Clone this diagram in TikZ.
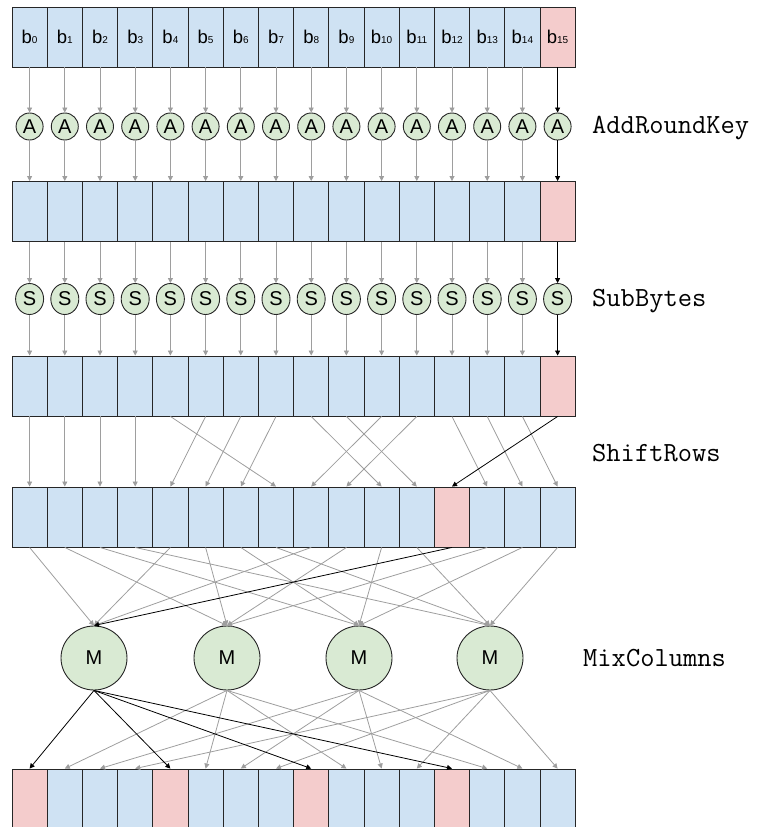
\documentclass[tikz,border=0pt]{standalone}
\usepackage{fontspec}
\setmainfont{Liberation Sans}
\usetikzlibrary{arrows.meta,shapes.geometric}

\definecolor{cellblue}{HTML}{CFE2F3}
\definecolor{cellred}{HTML}{F4CCCC}
\definecolor{opgreen}{HTML}{D9EAD3}
\definecolor{wiregray}{HTML}{9E9E9E}

% byte label with small index
\newcommand{\byte}[1]{{\fontsize{18.5}{18}\selectfont b}{\fontsize{10}{10}\selectfont #1}}

\begin{document}
\begin{tikzpicture}[x=1pt,y=-1pt,
    cell/.style={draw=black!85,line width=0.9pt,minimum width=35.2pt,minimum height=60pt,inner sep=0pt},
    op/.style={ellipse,draw=black!85,line width=0.9pt,fill=opgreen,inner sep=0pt,font=\fontsize{20}{20}\selectfont},
    wire/.style={draw=wiregray,line width=0.8pt,-{Triangle[length=5pt,width=5pt]}},
    hotwire/.style={wire,draw=black},
    stage/.style={anchor=base west,inner sep=0pt,font=\ttfamily\fontsize{27.7}{30}\selectfont}]

    \clip (0,0) rectangle (761,827);

    % state rows and byte operations
    \foreach \i in {0,...,15}
    {
        \pgfmathsetmacro\cx{29.6+35.2*\i}
        \ifnum\i=15 \def\fc{cellred}\else\def\fc{cellblue}\fi
        \ifnum\i=12 \def\fs{cellred}\else\def\fs{cellblue}\fi
        \pgfmathtruncatemacro\m{mod(\i,4)}
        \ifnum\m=0 \def\fm{cellred}\else\def\fm{cellblue}\fi
        \node[cell,fill=\fc] (in\i) at (\cx,37) {\byte{\i}};
        \node[op,minimum width=27pt,minimum height=27pt] (ark\i) at (\cx,126.5) {A};
        \node[cell,fill=\fc] (rk\i) at (\cx,211.5) {};
        \node[op,minimum width=28pt,minimum height=31pt] (sb\i) at (\cx,299) {S};
        \node[cell,fill=\fc] (sub\i) at (\cx,386) {};
        \node[cell,fill=\fs] (sr\i) at (\cx,517) {};
        \node[cell,fill=\fm] (mc\i) at (\cx,799) {};
    }

    % mix units
    \foreach \c/\mx in {0/94,1/227,2/359,3/490}
    {
        \node[op,minimum width=66pt,minimum height=64pt] (mix\c) at (\mx,658) {M};
    }

    % straight wires
    \foreach \i in {0,...,14}
    {
        \draw[wire] (in\i.south) -- (ark\i.north);
        \draw[wire] (ark\i.south) -- (rk\i.north);
        \draw[wire] (rk\i.south) -- (sb\i.north);
        \draw[wire] (sb\i.south) -- (sub\i.north);
    }
    \draw[hotwire] (in15.south) -- (ark15.north);
    \draw[hotwire] (ark15.south) -- (rk15.north);
    \draw[hotwire] (rk15.south) -- (sb15.north);
    \draw[hotwire] (sb15.south) -- (sub15.north);

    % row shifts
    \foreach \j in {0,...,15}
    {
        \pgfmathtruncatemacro\src{4*int(\j/4)+mod(mod(\j,4)+int(\j/4),4)}
        \ifnum\j=12 \else \draw[wire] (sub\src.south) -- (sr\j.north); \fi
    }
    \draw[hotwire] (sub15.south) -- (sr12.north);

    % into the mix units
    \foreach \c in {0,...,3}
    {
        \foreach \k in {0,...,3}
        {
            \pgfmathtruncatemacro\src{\c+4*\k}
            \ifnum\src=12 \else \draw[wire] (sr\src.south) -- (mix\c.north); \fi
        }
    }
    \draw[hotwire] (sr12.south) -- (mix0.north);

    % out of the mix units
    \foreach \c in {1,2,3}
    {
        \foreach \k in {0,...,3}
        {
            \pgfmathtruncatemacro\dst{\c+4*\k}
            \draw[wire] (mix\c.south) -- (mc\dst.north);
        }
    }
    \foreach \k in {0,4,8,12}
    {
        \draw[hotwire] (mix0.south) -- (mc\k.north);
    }

    % stage names
    \node[stage] (lbl-ark) at (592,133) {AddRoundKey};
    \node[stage] (lbl-sb) at (592,306.5) {SubBytes};
    \node[stage] (lbl-sr) at (592,461) {ShiftRows};
    \node[stage] (lbl-mc) at (583,666.5) {MixColumns};
\end{tikzpicture}
\end{document}
